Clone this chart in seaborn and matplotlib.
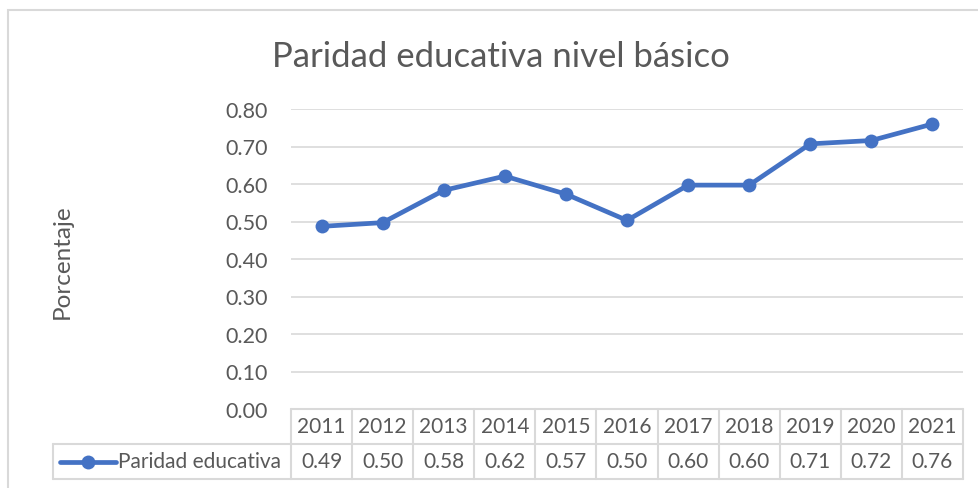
import pandas as pd
import seaborn as sns
import matplotlib.pyplot as plt
from matplotlib.patches import Rectangle
from matplotlib.lines import Line2D
from matplotlib.transforms import blended_transform_factory

# data
years = ["2011", "2012", "2013", "2014", "2015", "2016", "2017", "2018", "2019", "2020", "2021"]
paridad = [0.487, 0.497, 0.583, 0.621, 0.573, 0.503, 0.597, 0.597, 0.707, 0.716, 0.760]
yticks = [0.0, 0.1, 0.2, 0.3, 0.4, 0.5, 0.6, 0.7, 0.8]
series_name = "Paridad educativa"

df = pd.DataFrame({"year": years, "valor": paridad})

sns.set_theme(style="white")
plt.rcParams["font.family"] = ["Lato", "DejaVu Sans"]

W, H = 979, 489
blue = "#4472C4"
grey_txt = "#595959"
grid_c = "#D9D9D9"

fig = plt.figure(figsize=(W / 100, H / 100), dpi=100)

# chart border (cut off on right and bottom)
fig.patches.append(Rectangle((8 / W, -0.1), 1.2, 1 - 11 / H + 0.1, transform=fig.transFigure,
                             fill=False, edgecolor="#D9D9D9", linewidth=1.5))

left, right, top, bottom = 291, 963, 110, 410
ax = fig.add_axes([left / W, 1 - bottom / H, (right - left) / W, (bottom - top) / H])

sns.lineplot(data=df, x="year", y="valor", ax=ax, sort=False, color=blue,
             linewidth=3.4, marker="o", markersize=10, markeredgewidth=0)

ax.set_xlim(-0.5, len(years) - 0.5)
ax.set_ylim(0, 0.8)
ax.set_yticks(yticks)
ax.set_yticklabels([f"{v:.2f}" for v in yticks], color=grey_txt, fontsize=15.5)
ax.set_xticks([])
ax.set_xlabel("")
ax.set_ylabel("")
ax.tick_params(axis="y", length=0, pad=16.5)
for v in yticks[1:]:
    ax.axhline(v, color=grid_c, linewidth=1.2, zorder=0)
for s in ax.spines.values():
    s.set_visible(False)

fig.text(501 / W, 1 - 57 / H, "Paridad educativa nivel básico", ha="center", va="center",
         fontsize=25, color=grey_txt)
fig.text(62 / W, 1 - 262 / H, "Porcentaje", rotation=90, ha="center", va="center",
         fontsize=17.5, color=grey_txt)

# data table under the axis
tr = blended_transform_factory(ax.transData, ax.transAxes)
row_h = 35 / (bottom - top)
y0 = 0
y1 = -row_h
y2 = -2 * row_h
n = len(years)
leg_left = -0.5 - (left - 53) / ((right - left) / n)
tab_c = "#D9D9D9"
lk = dict(color=tab_c, linewidth=1.5, transform=tr, clip_on=False)
ax.add_line(Line2D([-0.5, n - 0.5], [y0, y0], **lk))
ax.add_line(Line2D([leg_left, n - 0.5], [y1, y1], **lk))
ax.add_line(Line2D([leg_left, n - 0.5], [y2, y2], **lk))
ax.add_line(Line2D([leg_left, leg_left], [y1, y2], **lk))
for i in range(n + 1):
    ax.add_line(Line2D([i - 0.5, i - 0.5], [y0, y2], **lk))
for i, (yr, v) in enumerate(zip(years, paridad)):
    ax.text(i, (y0 + y1) / 2, yr, transform=tr, ha="center", va="center",
            fontsize=15, color=grey_txt, clip_on=False)
    ax.text(i, (y1 + y2) / 2, f"{v:.2f}", transform=tr, ha="center", va="center",
            fontsize=15, color=grey_txt, clip_on=False)

# legend key inside the table
kx0 = leg_left + 7 / ((right - left) / n)
kx1 = leg_left + 63 / ((right - left) / n)
ym = (y1 + y2) / 2
ax.add_line(Line2D([kx0, kx1], [ym, ym], color=blue, linewidth=3.4, transform=tr,
                   clip_on=False, solid_capstyle="round"))
ax.add_line(Line2D([(kx0 + kx1) / 2], [ym], color=blue, marker="o", markersize=10,
                   markeredgewidth=0, transform=tr, clip_on=False))
ax.text(kx1 + 0.03, ym, series_name, transform=tr, ha="left", va="center",
        fontsize=15, color=grey_txt, clip_on=False)

fig.savefig("out.png", dpi=100, facecolor="white")
